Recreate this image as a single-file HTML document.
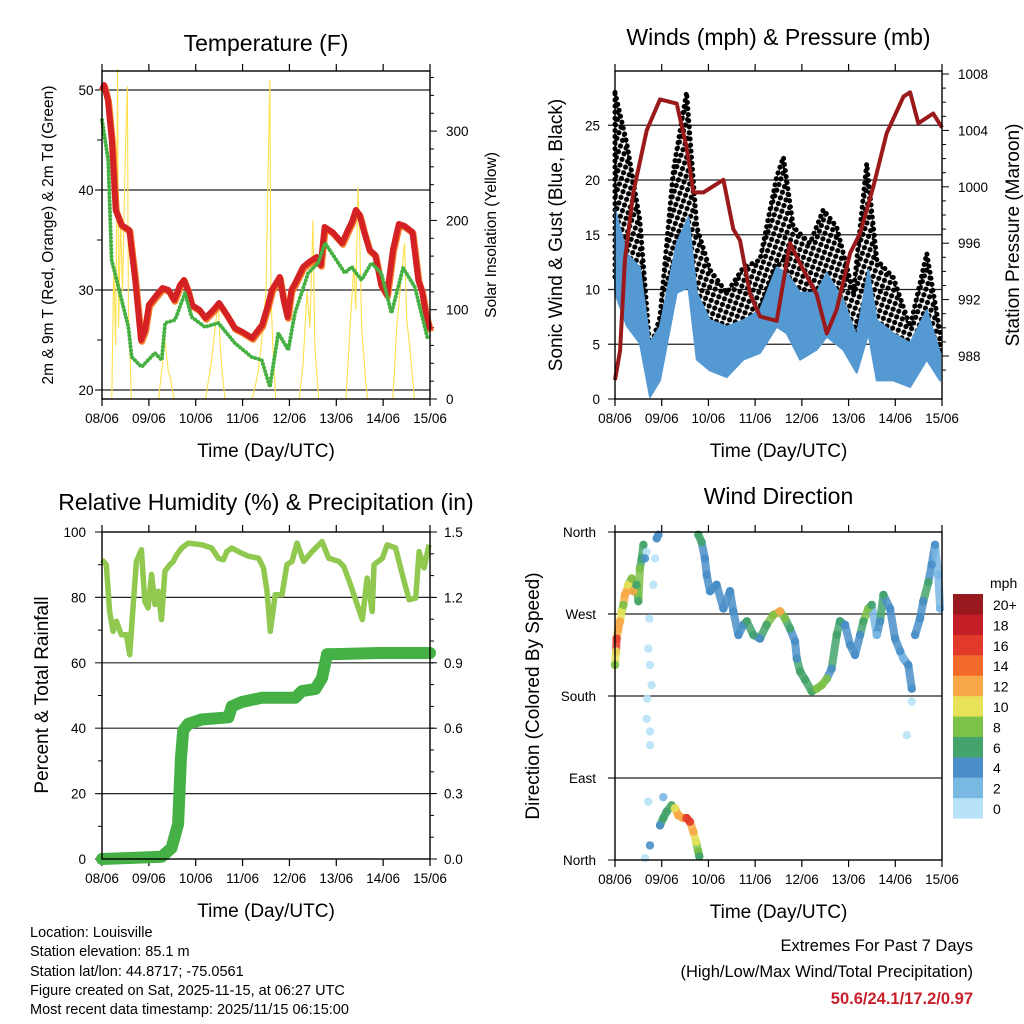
<!DOCTYPE html>
<html><head><meta charset="utf-8"><style>
html,body{margin:0;padding:0;background:#fff}
svg{display:block;font-family:"Liberation Sans",Arial,sans-serif}
</style></head><body>
<svg id="c" width="1024" height="1024" viewBox="0 0 1024 1024" xmlns="http://www.w3.org/2000/svg">
<defs>
<pattern id="dots" width="6" height="6" patternUnits="userSpaceOnUse" patternTransform="rotate(20)">
<circle cx="3" cy="3" r="2.6" fill="#000"/>
</pattern>
</defs>
<rect width="1024" height="1024" fill="#fff"/>
<g id="g1"></g>
<g id="g2"></g>
<g id="g3"></g>
<g id="g4"></g>
<g font-size="14.5" fill="#000">
<text x="30" y="937">Location: Louisville</text>
<text x="30" y="956">Station elevation: 85.1 m</text>
<text x="30" y="976">Station lat/lon: 44.8717; -75.0561</text>
<text x="30" y="995">Figure created on Sat, 2025-11-15, at 06:27 UTC</text>
<text x="30" y="1014">Most recent data timestamp: 2025/11/15 06:15:00</text>
</g>
<g font-size="16.5" text-anchor="end">
<text x="973" y="951">Extremes For Past 7 Days</text>
<text x="973" y="977">(High/Low/Max Wind/Total Precipitation)</text>
<text x="973" y="1004" fill="#c8202a" font-weight="bold">50.6/24.1/17.2/0.97</text>
</g>
</svg>
<script>
// ---------- data ----------
const dayLabels = ["08/06","09/06","10/06","11/06","12/06","13/06","14/06","15/06"];
const tempH = [0,1,3,5,7,10,14,17,20,22,24,28,31,34,37,40,42,44,46,50,53,57,60,64,68,72,77,80,82,85,87,91,93,95,97,99,103,106,110,112,114,118,123,126,128,130,132,134,137,140,143,146,149,152,155,159,162,164,166,168];
const tempV = [50,50.5,49,45,38,36.5,36,31,25,26,28.5,29.5,30.2,30,29,30.5,31,30,28.5,28,27.2,28,28.7,27.5,26.2,25.8,25.2,26,26.5,28.5,30,31.3,29,27.3,30,30.7,32.3,32.8,33.3,32.5,36.3,35.8,34.7,36,36.8,38,37.5,36,34,33.5,30.5,29.5,34,36.6,36.4,35.8,31,29.8,27.5,26];
const dewH = [0,3.2,4.9,8.4,13.5,15.2,20.3,27.1,30.6,32.3,37.4,42.5,45.9,52.7,59.6,68,76.6,81.8,86,90.3,95.4,98.8,105.6,110.7,114.2,124.4,127.8,132.9,138,143,148.3,154.2,160.2,167];
const dewV = [47,43,33,30.3,26.3,23.3,22.3,23.7,23,26.7,27,29.7,27.3,26.3,26.7,24.7,23.3,23,20.3,25.7,24,27.7,31.7,32.7,34.7,31.7,32.3,31,32.7,31.7,27.7,32.2,30.3,25];
const solarH = [5,6,7,8,8.5,9.5,10.5,12,13,13.5,14.5,15,29,31,32,33,34,35,36,37,53,56,58,59.5,60.5,62,63,77,80,82,84,85,86,86.5,87.5,89,101,103,105,106.5,108,109,111,125,127,129,130,131,132,133,135,136,149,151,153,155,156,158,160];
const solarV = [0,150,60,370,80,200,120,280,350,100,40,0,0,40,70,50,30,25,10,0,0,40,80,110,60,20,0,0,30,70,120,250,357,120,60,0,0,40,120,80,200,60,0,0,80,150,100,237,180,80,20,0,0,80,130,175,90,50,0];
const presH = [0,2.6,5.1,9.4,16.3,23.1,31.7,36.8,40.3,45.4,55.7,60.8,64.2,69.4,74.5,83.1,89.9,96.8,103.6,108.8,113.9,120.8,125.9,132.7,139.6,148.2,151.6,155.8,163.5,168];
const presV = [986.3,988.4,994.8,999.6,1004,1006.2,1005.9,1002.8,999.6,999.6,1000.5,997,996.2,992.4,990.8,990.5,996,994.1,992.4,989.6,991.3,995.3,996.7,1000,1003.8,1006.4,1006.7,1004.5,1005.2,1004.2];
const windH = [0,6,12.8,18,23.1,31.7,37.7,42,48.8,57.4,65.9,74.5,83.1,88.2,95.1,103.6,108.8,117.3,124.2,130.2,134.5,143,151.6,160.2,167];
const windLo = [9.7,6.7,5.1,0.2,1.7,9.7,10.2,3.6,2.6,2,3.6,4.2,6.6,6,3.6,4.5,5.7,4.5,2.4,6,1.7,1.7,1.1,3.6,1.7];
const windHi = [17.3,13.3,12,5.1,6.6,14.2,16.6,9.7,7.2,6.6,7.2,8.1,12,11.5,9.7,9.7,11.5,9,5.7,11.8,7.2,6,5.1,8.1,4.2];
const gustH = [0,6,12.8,18,23.1,30,36.8,42,48.8,57.4,65.9,74.5,83.1,86.5,91.6,100.2,107,113.9,122.5,129.3,134.5,143,151.6,160.2,167];
const gustLo = [11.1,12,11.1,2,5.1,12.7,14.2,8.1,6.6,5.1,6.6,8.1,12,12.7,9.7,8.1,9.7,8.4,4.5,9.7,5.1,4.5,4.2,6.6,4.2];
const gustHi = [28,23.4,16.3,4.5,7.5,20.9,28,15.7,11.8,9.7,12,12.7,20.3,22.1,15.7,14.2,17.3,15.7,9.7,21.5,12.7,11.1,6.6,13.3,6];
const rhH = [0,2.2,3.9,5.7,7.4,9.9,12.5,14.2,15.9,17.6,20.2,21.9,23.6,25.4,27.1,28.8,30.5,32.2,34.8,36.5,38.2,40.8,44.2,51,56.2,59.6,62.2,63.9,66.5,69.9,75,80.2,82.7,84.5,86.2,88.7,92.2,94.7,97.3,99.9,103.3,107.6,112.7,116.1,121.3,123.8,127.3,130.7,133.3,135.8,138.4,139.3,143.6,146.1,150.4,153.8,157.3,160.7,162.4,165,167.5];
const rhV = [91.5,90,75.7,69.6,72.7,68.6,68.6,62.5,76.8,91,94.6,78.8,76.8,87,77.8,81.9,73.2,88,90,91,93,95.1,96.6,96.1,95.1,92,91.5,94,95.1,94,92.6,92,89,81.9,69.6,80.8,80.8,90,91,96.6,91,94,97.1,92,91,89.5,83.9,77.8,73.2,85.9,75.7,90,92,96.1,95.1,87,79.3,79.8,94,89,96.1];
const prH = [0,30.5,35.6,39,40.4,41.6,44.2,51,64.8,66.5,71.6,81.9,99,102.4,109.3,112.7,115.3,119.6,141.8,168];
const prV = [0,0.01,0.05,0.16,0.46,0.59,0.62,0.64,0.65,0.70,0.72,0.74,0.74,0.77,0.78,0.83,0.94,0.94,0.945,0.945];
const dirH = [0,0.5,0.8,1.7,2.6,3.4,4.3,5.1,6,6.8,8.6,9.4,11.1,12,12.8,13.7,14.6,16.3,15.4,19.7,20.6,21.4,22.3,17.6,17.1,18,18.8,16.6,16.3,18,18,15.4,18,23.1,24.8,26.5,29.1,30.8,32.5,35.1,36.8,38.5,40.3,41.6,42.8,43.3,17.1,24.8,42.8,44.5,46.2,47.1,48.8,52.2,55.7,59.1,60.8,63.4,65.9,67.7,71.1,74.5,77.9,81.4,84.8,87.4,89.9,92.5,93.4,95.1,97.6,101.1,103.6,106.2,108.8,111.3,113.9,115.6,118.2,120.8,123.3,125.9,127.6,130.2,131.9,134.5,136.2,137.9,141.3,143.9,146.5,148.2,150.7,152.5,152.5,149.9,154.2,156.7,158.4,161,162.7,164.4,166.1,167];
const dirV = [214,229,243,254,262,273,280,291,295,302,309,295,302,284,320,331,346,338,331,302,331,353,357,265,232,214,192,177,155,141,126,2,16,38,46,53,60,57,49,46,46,42,31,20,9,4,64,69,357,349,331,313,295,302,276,295,273,247,258,262,247,243,258,269,273,265,254,240,221,207,198,185,188,192,199,210,247,262,258,236,225,247,262,276,280,247,262,291,276,243,229,221,214,188,174,137,247,265,284,305,324,346,313,276];
const dirS = [9,10,16,12,12,10,9,12,12,10,9,12,7,7,9,7,6,1,4,1,1,4,4,1,1,0,1,1,0,0,0,1,4,4,6,7,7,10,12,12,16,16,12,10,8,6,1,2,6,7,4,4,4,4,4,4,4,4,4,6,7,4,7,8,12,8,7,4,4,6,7,6,9,9,9,4,6,6,4,4,4,4,6,9,7,2,4,6,4,4,4,2,4,4,1,1,4,4,4,6,4,4,2,2];
const speedBins = ["0","2","4","6","8","10","12","14","16","18","20+"];
const speedColors = ["#b8e2f8","#7ab8e4","#4a8fc8","#45a46c","#7cc248","#e8e25a","#f8a848","#f26a2a","#e23a2a","#c41e26","#981a1e"];
const leftT = [20,30,40,50], rightS = [0,100,200,300];
const windT = [0,5,10,15,20,25], presT = [988,992,996,1000,1004,1008];
const rhT = [0,20,40,60,80,100], prT = ["0.0","0.3","0.6","0.9","1.2","1.5"];
const dirT = ["North","West","South","East","North"];

// ---------- helpers ----------
const NS = "http://www.w3.org/2000/svg";
function mk(parent, tag, name, attrs) {
  const el = document.createElementNS(NS, tag);
  
  
  for (const k in attrs) el.setAttribute(k, attrs[k]);
  parent.appendChild(el);
  return el;
}
function txt(parent, name, x, y, s, size, anchor, extra) {
  const t = mk(parent, 'text', name, Object.assign({x:x, y:y, 'font-size':size, 'text-anchor':anchor || 'middle'}, extra || {}));
  t.textContent = s;
  return t;
}
function panel(g, box, title, titleY, tsize) {
  const xs = h => box.x0 + h / 168 * (box.x1 - box.x0);
  txt(g, 'panel-title', (box.x0 + box.x1) / 2, titleY, title, tsize || 23);
  for (let i = 0; i < dayLabels.length; i++) {
    const x = xs(i * 24);
    mk(g, 'line', 'x-tick', {x1:x, x2:x, y1:box.y1, y2:box.y1 + 7, stroke:'#000', 'stroke-width':1.2});
    mk(g, 'line', 'x-tick-top', {x1:x, x2:x, y1:box.y0, y2:box.y0 - 7, stroke:'#000', 'stroke-width':1.2});
    txt(g, 'x-tick-label', x, box.y1 + 24, dayLabels[i], 13.5);
  }
  txt(g, 'x-axis-title', (box.x0 + box.x1) / 2, box.y1 + 58, 'Time (Day/UTC)', 19);
  return xs;
}
function hline(g, box, y, name) {
  mk(g, 'line', name, {x1:box.x0 - 7, x2:box.x1, y1:y, y2:y, stroke:'#222', 'stroke-width':1.2});
}
function frame(g, box) {
  mk(g, 'rect', 'plot-frame', {x:box.x0, y:box.y0, width:box.x1 - box.x0, height:box.y1 - box.y0, fill:'none', stroke:'#000', 'stroke-width':1.4});
}
function pts(H, V, xs, ys) { return H.map((h, i) => xs(h).toFixed(1) + ',' + ys(V[i]).toFixed(1)).join(' '); }
function rtick(g, box, y, len) { if (y < box.y0 - 0.5 || y > box.y1 + 0.5) return; mk(g, 'line', 'right-tick', {x1:box.x1, x2:box.x1 + len, y1:y, y2:y, stroke:'#000', 'stroke-width':1}); }
function ltick(g, box, y, len) { mk(g, 'line', 'left-tick', {x1:box.x0, x2:box.x0 - len, y1:y, y2:y, stroke:'#000', 'stroke-width':1}); }

// ---------- panel 1: temperature ----------
(function(){
  const g = document.getElementById('g1');
  const box = {x0:102, x1:430, y0:71, y1:399};
  const xs = panel(g, box, 'Temperature (F)', 51);
  const yT = v => 390 - (v - 20) * 10;
  const yS = v => 399 - v * 0.893;
  leftT.forEach(v => { hline(g, box, yT(v), 'gridline'); txt(g, 'y-tick-label', 86, yT(v) + 5, String(v), 13.5); });
  for (let v = 25; v <= 45; v += 10) ltick(g, box, yT(v), 5);
  rightS.forEach(v => { rtick(g, box, yS(v), 7); txt(g, 'y2-tick-label', 446, yS(v) + 5, String(v), 13.5, 'start'); });
  for (let v = 20; v <= 360; v += 20) if (v % 100) rtick(g, box, yS(v), 4);
  mk(g, 'polyline', 'solar-insolation-line', {points:pts(solarH, solarV, xs, yS), fill:'none', stroke:'#ffe04a', 'stroke-width':1.1});
  mk(g, 'polyline', 'temp-9m-orange-line', {points:pts(tempH, tempV, xs, yT), fill:'none', stroke:'#f47a28', 'stroke-width':6.5, 'stroke-linejoin':'round', transform:'translate(0.8,1.5)'});
  mk(g, 'polyline', 'temp-2m-red-line', {points:pts(tempH, tempV, xs, yT), fill:'none', stroke:'#d42124', 'stroke-width':6, 'stroke-linejoin':'round'});
  mk(g, 'polyline', 'dewpoint-green-line', {points:pts(dewH, dewV, xs, yT), fill:'none', stroke:'#46b043', 'stroke-width':4, 'stroke-dasharray':'0.1 3.6', 'stroke-linecap':'round'});
  frame(g, box);
  txt(g, 'y-axis-title', 0, 0, '2m & 9m T (Red, Orange) & 2m Td (Green)', 15.5, 'middle', {transform:'translate(53,235) rotate(-90)'});
  txt(g, 'y2-axis-title', 0, 0, 'Solar Insolation (Yellow)', 15.5, 'middle', {transform:'translate(496,235) rotate(-90)'});
})();

// ---------- panel 2: winds ----------
(function(){
  const g = document.getElementById('g2');
  const box = {x0:615, x1:942, y0:71, y1:399};
  const xs = panel(g, box, 'Winds (mph) & Pressure (mb)', 45);
  const yW = v => 399 - v * 10.95;
  const yP = v => 356 - (v - 988) * 14.1;
  windT.forEach(v => { if (v > 0) hline(g, box, yW(v), 'gridline'); else ltick(g, box, yW(v), 7); txt(g, 'y-tick-label', 600, yW(v) + 5, String(v), 13.5, 'end'); });
  presT.forEach(v => { rtick(g, box, yP(v), 7); txt(g, 'y2-tick-label', 958, yP(v) + 5, String(v), 13.5, 'start'); });
  for (let v = 987; v <= 1009; v++) if (v % 4) rtick(g, box, yP(v), 4);
  const gp = gustH.map((h, i) => xs(h).toFixed(1) + ',' + yW(gustHi[i]).toFixed(1)).join(' ') + ' ' +
    gustH.slice().reverse().map((h, j) => { const i = gustH.length - 1 - j; return xs(h).toFixed(1) + ',' + yW(gustLo[i]).toFixed(1); }).join(' ');
  mk(g, 'polygon', 'gust-black-cloud', {points:gp, fill:'url(#dots)', stroke:'#000', 'stroke-width':5, 'stroke-linejoin':'round', 'stroke-linecap':'round', 'stroke-dasharray':'0.1 6'});
  const wp = windH.map((h, i) => xs(h).toFixed(1) + ',' + yW(windHi[i]).toFixed(1)).join(' ') + ' ' +
    windH.slice().reverse().map((h, j) => { const i = windH.length - 1 - j; return xs(h).toFixed(1) + ',' + yW(windLo[i]).toFixed(1); }).join(' ');
  mk(g, 'polygon', 'sonic-wind-blue-band', {points:wp, fill:'#5599d2', stroke:'#5599d2', 'stroke-width':2, 'stroke-linejoin':'round'});
  mk(g, 'polyline', 'station-pressure-line', {points:pts(presH, presV, xs, yP), fill:'none', stroke:'#9a1a1c', 'stroke-width':4, 'stroke-linejoin':'round'});
  frame(g, box);
  txt(g, 'y-axis-title', 0, 0, 'Sonic Wind & Gust (Blue, Black)', 19, 'middle', {transform:'translate(562,235) rotate(-90)'});
  txt(g, 'y2-axis-title', 0, 0, 'Station Pressure (Maroon)', 19, 'middle', {transform:'translate(1019,235) rotate(-90)'});
})();

// ---------- panel 3: humidity ----------
(function(){
  const g = document.getElementById('g3');
  const box = {x0:102, x1:430, y0:532, y1:859};
  const xs = panel(g, box, 'Relative Humidity (%) & Precipitation (in)', 510);
  const yR = v => 859 - v * 3.27;
  const yPr = v => 859 - v * 218;
  rhT.forEach(v => { if (v > 0 && v < 100) hline(g, box, yR(v), 'gridline'); else ltick(g, box, yR(v), 7); txt(g, 'y-tick-label', 86, yR(v) + 5, String(v), 13.5, 'end'); });
  for (let v = 10; v <= 90; v += 20) ltick(g, box, yR(v), 4);
  prT.forEach(s => { const v = parseFloat(s); rtick(g, box, yPr(v), 7); txt(g, 'y2-tick-label', 444, yPr(v) + 5, s, 13.5, 'start'); });
  for (let v = 0.1; v < 1.55; v += 0.1) rtick(g, box, yPr(v), 4);
  mk(g, 'polyline', 'relative-humidity-line', {points:pts(rhH, rhV, xs, yR), fill:'none', stroke:'#90c850', 'stroke-width':5.5, 'stroke-linejoin':'round'});
  mk(g, 'polyline', 'total-rainfall-line', {points:pts(prH, prV, xs, yPr), fill:'none', stroke:'#45b045', 'stroke-width':12, 'stroke-linejoin':'round', 'stroke-linecap':'round'});
  frame(g, box);
  txt(g, 'y-axis-title', 0, 0, 'Percent & Total Rainfall', 19, 'middle', {transform:'translate(48,695) rotate(-90)'});
})();

// ---------- panel 4: wind direction ----------
(function(){
  const g = document.getElementById('g4');
  const box = {x0:615, x1:942, y0:532, y1:860};
  const xs = panel(g, box, 'Wind Direction', 504);
  const yD = i => 532 + i * 82;
  dirT.forEach((s, i) => { if (i > 0 && i < 4) hline(g, box, yD(i), 'gridline'); else ltick(g, box, yD(i), 7); txt(g, 'y-tick-label', 596, yD(i) + 5, s, 13.5, 'end'); });
  const yDir = d => 860 - d / 360 * 328;
  const bin = s => Math.min(10, Math.floor(s / 2));
  for (let i = 1; i < dirH.length; i++) {
    const dh = Math.abs(dirH[i] - dirH[i - 1]), dd = Math.abs(dirV[i] - dirV[i - 1]);
    if (dh < 4 && dd < 45 && dirS[i] >= 2 && dirS[i - 1] >= 2) {
      mk(g, 'line', 'direction-trace', {x1:xs(dirH[i - 1]).toFixed(1), y1:yDir(dirV[i - 1]).toFixed(1), x2:xs(dirH[i]).toFixed(1), y2:yDir(dirV[i]).toFixed(1), stroke:speedColors[bin(dirS[i])], 'stroke-width':8, 'stroke-linecap':'round', 'stroke-opacity':0.85});
    }
  }
  for (let i = 0; i < dirH.length; i++) {
    mk(g, 'circle', 'direction-point', {cx:xs(dirH[i]).toFixed(1), cy:yDir(dirV[i]).toFixed(1), r:4.2, fill:speedColors[bin(dirS[i])], 'fill-opacity':0.9});
  }
  frame(g, box);
  txt(g, 'y-axis-title', 0, 0, 'Direction (Colored By Speed)', 19, 'middle', {transform:'translate(539,696) rotate(-90)'});
  const cb = mk(g, 'g', 'speed-colorbar', {});
  txt(cb, 'colorbar-unit', 990, 588, 'mph', 14, 'start');
  for (let i = 0; i < speedBins.length; i++) {
    const y = 594 + (10 - i) * 20.4;
    mk(cb, 'rect', 'colorbar-box', {x:953, y:y, width:30, height:20.6, fill:speedColors[i]});
    txt(cb, 'colorbar-label', 993, y + 16, speedBins[i], 14, 'start');
  }
})();
</script>
</body></html>
